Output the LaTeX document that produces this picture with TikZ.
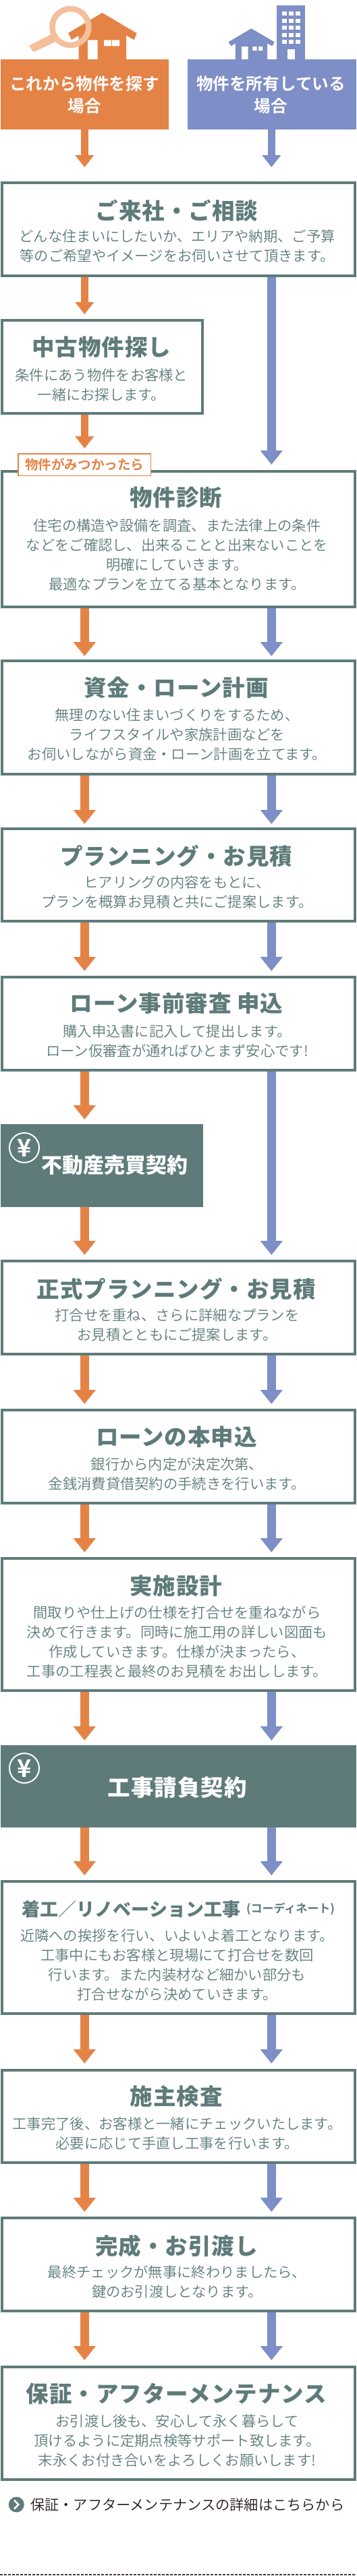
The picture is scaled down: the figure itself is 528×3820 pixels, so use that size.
\documentclass[tikz,border=0pt]{standalone}
\usepackage{fontspec}
\usetikzlibrary{arrows.meta,calc}
\newfontfamily\bodyfont{Noto Sans CJK JP DemiLight}
\newfontfamily\ttlfont[LetterSpace=3]{Noto Sans CJK JP Black}
\newfontfamily\ttltight{Noto Sans CJK JP Black}
\newfontfamily\midfont{Noto Sans CJK JP Bold}
\definecolor{orangec}{HTML}{E58347}
\definecolor{bluec}{HTML}{7E8EC6}
\definecolor{tealc}{HTML}{5E7B7A}
\definecolor{lenscol}{HTML}{F4C09C}
\definecolor{inkc}{HTML}{231815}
\tikzset{
  stepbox/.style={draw=tealc,line width=4pt,fill=white,inner sep=0pt},
  darkbox/.style={fill=tealc,draw=none,inner sep=0pt,outer sep=0pt},
  headbox/.style={draw=none,inner sep=0pt,outer sep=0pt},
  ttl/.style={text=tealc,inner sep=0pt,font=\ttlfont\fontsize{33.5}{36}\selectfont},
  wttl/.style={text=white,inner sep=0pt,font=\ttlfont\fontsize{33.5}{36}\selectfont},
  bodytxt/.style={text=tealc,inner sep=0pt,align=center,font=\bodyfont\fontsize{21.3}{29}\selectfont},
  headtxt/.style={text=white,inner sep=0pt,align=center,font=\midfont\fontsize{24.6}{32.5}\selectfont},
  tagbox/.style={draw=orangec,line width=1.5pt,fill=white,text=orangec,inner sep=0pt,font=\midfont\fontsize{19.6}{22}\selectfont},
  yenmark/.style={circle,draw=white,line width=2pt,inner sep=0pt,minimum size=44pt,text=white,font=\midfont\fontsize{36}{36}\selectfont},
  oarrowS/.style={draw=orangec,line width=11pt,-{Triangle[width=27pt,length=18pt]},shorten >=#1},
  barrowS/.style={draw=bluec,line width=11pt,-{Triangle[width=27pt,length=18pt]},shorten >=#1},
  oarrow/.style={draw=orangec,line width=13.5pt,-{Triangle[width=32pt,length=21pt]},shorten >=#1},
  barrow/.style={draw=bluec,line width=13.5pt,-{Triangle[width=32pt,length=21pt]},shorten >=#1},
  oarrowS/.default=7pt,barrowS/.default=7pt,oarrow/.default=7pt,barrow/.default=7pt,
}
% name, y1, y2, x1, x2, style
\newcommand{\flowbox}[6]{\node[#6,minimum width={(#5-#4-4)*1pt},minimum height={(#3-#2-4)*1pt}] (#1) at ({(#4+#5)/2},{(#2+#3)/2}) {};}
\newcommand{\solidbox}[6]{\node[#6,minimum width={(#5-#4)*1pt},minimum height={(#3-#2)*1pt}] (#1) at ({(#4+#5)/2},{(#2+#3)/2}) {};}
\begin{document}
\begin{tikzpicture}[x=1pt,y=-1pt]
\useasboundingbox (0,0) rectangle (528,3820);
\fill[white] (0,0) rectangle (528,3820);
\coordinate (oc) at (125.3,0);
\coordinate (bc) at (402.3,0);

% orange house
\fill[orangec] (151.5,19) -- (202.7,49.3) -- (198.7,59) -- (187,52.7) -- (187,89) -- (116.5,89) -- (116.5,52.7) -- (106,59) -- (101,49) -- cycle;
\fill[white] (130,59.3) rectangle (144.5,88) (154,59.3) rectangle (165,68.3) (166,59.3) rectangle (177,68.3);
\fill[lenscol] (43,67.7) -- (49.5,77.3) -- (82,62) -- (76,50.7) -- cycle;
\draw[lenscol,line width=8.5pt] (104.4,40) circle (27);
% blue house + tower
\fill[bluec] (410.4,8.3) rectangle (452.2,89);
\fill[white] (426,73) rectangle (437,88);
\foreach \yy in {17.3,27.8,38.4,48.8,59.3}{\foreach \xx in {418,428.2,438.3}{\fill[white] (\xx,\yy) rectangle ++(6.6,5.7);}}
\fill[bluec] (372.4,42.3) -- (406.7,62.3) -- (403.4,68.3) -- (396,64.3) -- (396,89) -- (348.8,89) -- (348.8,64.3) -- (342.4,68.3) -- (338.4,62.3) -- cycle;
\fill[white] (358,69) rectangle (367.7,88) (374.4,69) rectangle (380.5,75) (383,69) rectangle (389,75);

% header boxes
\solidbox{h1}{88}{192}{0.5}{250}{headbox,fill=orangec}
\solidbox{h2}{88}{192}{277.8}{527.5}{headbox,fill=bluec}
\node[headtxt] (h1t) at (125,140.5) {これから物件を探す\\場合};
\node[headtxt] (h2t) at (401.5,140.5) {物件を所有している\\場合};

% step boxes
\flowbox{b1}{269}{411}{0.5}{527.5}{stepbox}
\flowbox{b2}{473}{615}{0.5}{301.5}{stepbox}
\flowbox{b3}{697}{902}{0.5}{527.5}{stepbox}
\flowbox{b4}{978}{1150}{0.5}{527.5}{stepbox}
\flowbox{b5}{1227}{1368}{0.5}{527.5}{stepbox}
\flowbox{b6}{1447}{1589}{0.5}{527.5}{stepbox}
\solidbox{d1}{1667}{1790}{0.5}{300.5}{darkbox}
\flowbox{b7}{1868}{2010}{0.5}{527.5}{stepbox}
\flowbox{b8}{2089}{2231}{0.5}{527.5}{stepbox}
\flowbox{b9}{2309}{2509}{0.5}{527.5}{stepbox}
\solidbox{d2}{2588}{2710}{0.5}{527.5}{darkbox}
\flowbox{b10}{2788}{2988}{0.5}{527.5}{stepbox}
\flowbox{b11}{3068}{3209}{0.5}{527.5}{stepbox}
\flowbox{b12}{3287}{3429}{0.5}{527.5}{stepbox}
\flowbox{b13}{3508}{3679}{0.5}{527.5}{stepbox}
\node[tagbox,minimum width=196.5pt,minimum height=32.5pt] (tag) at (125.3,689) {物件がみつかったら};

% texts
\node[ttl] (t1) at (262,312) {ご来社・ご相談};
\node[bodytxt] (x1) at (262.6,365) {どんな住まいにしたいか、エリアや納期、ご予算\\等のご希望やイメージをお伺いさせて頂きます。};
\node[ttl] (t2) at (150.5,515) {中古物件探し};
\node[bodytxt] (x2) at (150.5,570.5) {条件にあう物件をお客様と\\一緒にお探します。};
\node[ttl] (t3) at (261,738) {物件診断};
\node[bodytxt] (x3) at (262.5,823) {住宅の構造や設備を調査、また法律上の条件\\などをご確認し、出来ることと出来ないことを\\明確にしていきます。\\最適なプランを立てる基本となります。};
\node[ttl] (t4) at (261,1020) {資金・ローン計画};
\node[bodytxt] (x4) at (262.5,1089) {無理のない住まいづくりをするため、\\ライフスタイルや家族計画などを\\お伺いしながら資金・ローン計画を立てます。};
\node[ttl] (t5) at (261.5,1269) {プランニング・お見積};
\node[bodytxt] (x5) at (262.5,1323) {ヒアリングの内容をもとに、\\プランを概算お見積と共にご提案します。};
\node[ttl] (t6) at (261.5,1488) {ローン事前審査 申込};
\node[bodytxt] (x6) at (262.5,1544) {購入申込書に記入して提出します。\\ローン仮審査が通ればひとまず安心です!};
\node[text=white,inner sep=0pt,font=\ttltight\fontsize{31}{36}\selectfont] (t7) at (170,1728) {不動産売買契約};
\node[yenmark] (y1) at (36,1702) {¥};
\node[ttl] (t8) at (261.5,1911) {正式プランニング・お見積};
\node[bodytxt] (x8) at (262.5,1965) {打合せを重ね、さらに詳細なプランを\\お見積とともにご提案します。};
\node[ttl] (t9) at (261.5,2131) {ローンの本申込};
\node[bodytxt] (x9) at (262.5,2186) {銀行から内定が決定次第、\\金銭消費貸借契約の手続きを行います。};
\node[ttl] (t10) at (261,2352) {実施設計};
\node[bodytxt] (x10) at (262.5,2435) {間取りや仕上げの仕様を打合せを重ねながら\\決めて行きます。同時に施工用の詳しい図面も\\作成していきます。仕様が決まったら、\\工事の工程表と最終のお見積をお出しします。};
\node[wttl] (t11) at (263,2651) {工事請負契約};
\node[yenmark] (y2) at (36,2622) {¥};
\node[text=tealc,inner sep=0pt,anchor=west,font=\ttltight\fontsize{27}{32}\selectfont] (t12) at (32.5,2831) {着工{\bodyfont ／}リノベーション工事};
\node[text=tealc,inner sep=0pt,anchor=west,font=\midfont\fontsize{17}{18}\selectfont] (t12b) at (365,2831) {(コーディネート)};
\node[bodytxt] (x12) at (262.5,2914) {近隣への挨拶を行い、いよいよ着工となります。\\工事中にもお客様と現場にて打合せを数回\\行います。また内装材など細かい部分も\\打合せながら決めていきます。};
\node[ttl] (t13) at (261.5,3109) {施主検査};
\node[bodytxt] (x13) at (262.5,3164) {工事完了後、お客様と一緒にチェックいたします。\\必要に応じて手直し工事を行います。};
\node[ttl] (t14) at (261.5,3331) {完成・お引渡し};
\node[bodytxt] (x14) at (262.5,3384) {最終チェックが無事に終わりましたら、\\鍵のお引渡しとなります。};
\node[ttl] (t15) at (261.5,3550) {保証・アフターメンテナンス};
\node[bodytxt] (x15) at (262.5,3619) {お引渡し後も、安心して永く暮らして\\頂けるように定期点検等サポート致します。\\末永くお付き合いをよろしくお願いします!};

% link
\node[circle,fill=tealc,inner sep=0pt,minimum size=23pt] (lk) at (24.3,3714) {};
\draw[white,line width=2.6pt] (21,3707.5) -- (27.3,3714) -- (21,3720.5);
\node[anchor=west,inner sep=0pt,text=inkc,font=\bodyfont\fontsize{21.2}{26}\selectfont] (lkt) at (45,3714) {保証・アフターメンテナンスの詳細はこちらから};
\coordinate (da) at (0,3818);
\coordinate (db) at (528,3818);
\draw[inkc!85!white,line width=1.4pt,dash pattern=on 4pt off 2pt] (da) -- (db);

% connectors
\draw[oarrowS=21pt] (h1.south -| oc) -- (b1.north -| oc);
\draw[barrowS=21pt] (h2.south -| bc) -- (b1.north -| bc);
\draw[oarrowS] (b1.south -| oc) -- (b2.north -| oc);
\draw[oarrowS] (b2.south -| oc) -- (tag.north -| oc);
\draw[barrow=8pt] (b1.south -| bc) -- (b3.north -| bc);
\draw[oarrow=5pt] (b3.south -| oc) -- (b4.north -| oc);
\draw[barrow=5pt] (b3.south -| bc) -- (b4.north -| bc);
\draw[oarrow=5pt] (b4.south -| oc) -- (b5.north -| oc);
\draw[barrow=5pt] (b4.south -| bc) -- (b5.north -| bc);
\draw[oarrow] (b5.south -| oc) -- (b6.north -| oc);
\draw[barrow] (b5.south -| bc) -- (b6.north -| bc);
\draw[oarrow] (b6.south -| oc) -- (d1.north -| oc);
\draw[oarrow] (d1.south -| oc) -- (b7.north -| oc);
\draw[barrow] (b6.south -| bc) -- (b7.north -| bc);
\draw[oarrow] (b7.south -| oc) -- (b8.north -| oc);
\draw[barrow] (b7.south -| bc) -- (b8.north -| bc);
\draw[oarrow] (b8.south -| oc) -- (b9.north -| oc);
\draw[barrow] (b8.south -| bc) -- (b9.north -| bc);
\draw[oarrow] (b9.south -| oc) -- (d2.north -| oc);
\draw[barrow] (b9.south -| bc) -- (d2.north -| bc);
\draw[oarrow] (d2.south -| oc) -- (b10.north -| oc);
\draw[barrow] (d2.south -| bc) -- (b10.north -| bc);
\draw[oarrow=8pt] (b10.south -| oc) -- (b11.north -| oc);
\draw[barrow=8pt] (b10.south -| bc) -- (b11.north -| bc);
\draw[oarrow] (b11.south -| oc) -- (b12.north -| oc);
\draw[barrow] (b11.south -| bc) -- (b12.north -| bc);
\draw[oarrow=8pt] (b12.south -| oc) -- (b13.north -| oc);
\draw[barrow=8pt] (b12.south -| bc) -- (b13.north -| bc);
\end{tikzpicture}
\end{document}
